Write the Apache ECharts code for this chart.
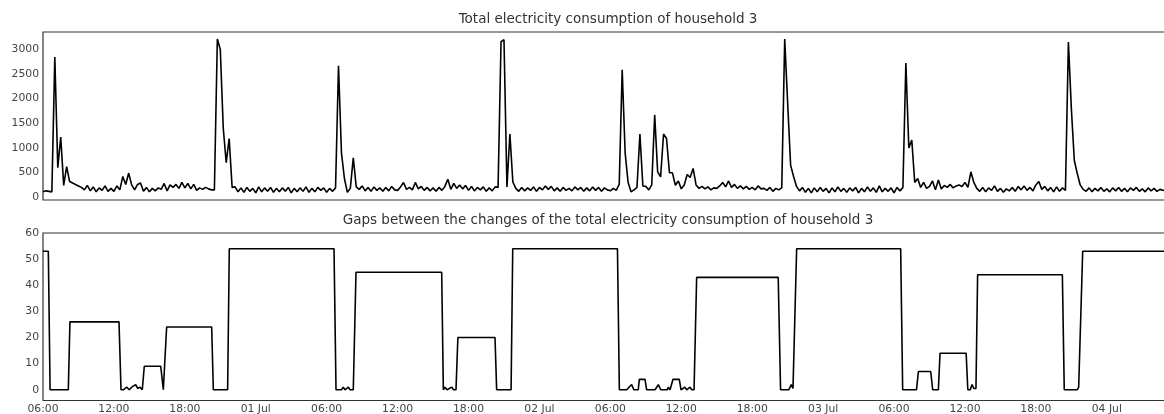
<!DOCTYPE html>
<html>
<head>
<meta charset="utf-8">
<script src="https://cdn.jsdelivr.net/npm/echarts@6/dist/echarts.min.js"></script>
<style>
  html, body { margin: 0; padding: 0; background: #fff; }
  #chart { width: 1164px; height: 414px; }
</style>
</head>
<body>
<div id="chart"></div>
<script>
// start of the series: 30 Jun, 06:00 (local time); x axis counts hours from here
const startTime = new Date(2013, 5, 30, 6, 0).getTime();
const HOUR = 3600 * 1000;
const stepHours = 0.25;
const spanHours = 95.6;

// total power, one value every 15 minutes, one row per hour
const power = [
  110, 130, 120, 110,
  2840, 600, 1220, 240,
  620, 320, 290, 260,
  230, 200, 150, 240,
  130, 210, 110, 190,
  140, 230, 120, 180,
  120, 230, 150, 420,
  260, 490, 250, 150,
  260, 290, 120, 200,
  110, 180, 130, 190,
  160, 280, 130, 250,
  200, 260, 180, 300,
  190, 280, 170, 260,
  140, 190, 160, 200,
  170, 150, 150, 3205,
  2990, 1400, 700, 1190,
  200, 210, 110, 190,
  100, 200, 120, 180,
  90, 210, 110, 190,
  120, 200, 100, 180,
  110, 190, 120, 200,
  90, 180, 110, 190,
  120, 210, 100, 180,
  110, 200, 140, 190,
  100, 180, 120, 190,
  2662, 900, 380, 100,
  180, 800, 210, 160,
  230, 130, 200, 120,
  210, 140, 190, 120,
  200, 130, 220, 150,
  140, 210, 300, 160,
  200, 150, 300, 170,
  220, 140, 200, 130,
  190, 120, 200, 140,
  220, 365, 160, 280,
  180, 250, 170, 240,
  140, 220, 130, 200,
  150, 210, 120, 190,
  130, 210, 200, 3150,
  3190, 210, 1280, 310,
  180, 120, 200, 130,
  190, 140, 210, 120,
  200, 150, 230, 160,
  220, 130, 190, 120,
  200, 140, 180, 130,
  210, 150, 200, 120,
  190, 130, 210, 140,
  200, 120, 190, 150,
  130, 180, 140, 265,
  2580, 900, 300, 110,
  150, 200, 1280, 230,
  220, 150, 250, 1667,
  515, 413, 1280, 1190,
  495, 495, 244, 330,
  170, 250, 460, 400,
  583, 250, 180, 220,
  170, 210, 150, 190,
  180, 230, 300, 210,
  330, 200, 260, 180,
  230, 170, 220, 160,
  200, 150, 230, 170,
  180, 140, 200, 120,
  180, 150, 190, 3205,
  1900, 650, 420, 220,
  130, 200, 100, 180,
  90, 190, 110, 200,
  120, 180, 90, 190,
  110, 210, 120, 180,
  100, 190, 130, 200,
  90, 180, 110, 210,
  120, 190, 100, 230,
  110, 180, 120, 190,
  90, 200, 130, 200,
  2717, 1000, 1160, 300,
  380, 200, 300, 180,
  220, 330, 150, 350,
  170, 240, 200, 260,
  190, 230, 250, 220,
  300, 200, 515, 300,
  180, 120, 200, 110,
  190, 140, 230, 120,
  180, 100, 170, 130,
  200, 120, 220, 150,
  230, 140, 200, 130,
  250, 320, 160, 220,
  130, 200, 110, 210,
  120, 190, 140, 3140,
  1800, 750, 480, 250,
  160, 120, 190, 110,
  180, 130, 200, 120,
  170, 110, 190, 130,
  200, 120, 180, 110,
  190, 140, 200, 120,
  170, 110, 190, 130,
  180, 120, 160, 140,
  150, 130, 150
];

// gaps between changes: hours after start and gap value
const gapHours = [
  0, 0.45, 0.6, 2.14, 2.28, 6.43, 6.6, 6.79, 7.08, 7.3, 7.5, 7.64, 7.84, 8.01, 8.21, 8.4, 8.49, 8.57,
  9.96, 10.18, 10.24, 10.46, 14.27, 14.41, 15.62, 15.76, 24.62, 24.79, 25.25, 25.4, 25.55, 25.83, 25.97,
  26.25, 26.48, 33.73, 33.87, 34.0, 34.18, 34.58, 34.73, 34.94, 35.1, 38.24, 38.38, 39.6, 39.74,
  48.6, 48.76, 49.38, 49.8, 49.99, 50.36, 50.45, 50.93, 51.07, 51.78, 52.06, 52.26, 52.82, 52.9, 53.05,
  53.3, 53.83, 53.98, 54.3, 54.46, 54.74, 54.88, 55.08, 55.3, 62.2, 62.4, 63.1, 63.3, 63.45, 63.56, 63.76,
  72.56, 72.73, 73.9, 74.06, 75.1, 75.27, 75.75, 75.89, 78.1, 78.24, 78.45, 78.6, 78.75, 78.93, 79.07,
  86.24, 86.4, 87.5, 87.62, 87.78, 87.96, 95.6
];
const gapValues = [
  53, 53, 0, 0, 26, 26, 0, 0, 1, 0, 1, 0.3, 2, 0.5, 1, 0, 0, 9,
  9, 0, 0, 24, 24, 0, 0, 54, 54, 0, 0, 1, 0, 1, 0,
  0, 45, 45, 0, 1, 0, 1, 0, 0, 20, 20, 0, 0, 54,
  54, 0, 0, 2, 0, 0, 4, 4, 0, 0, 2, 0, 0, 1, 0,
  4, 4, 0, 1, 0, 1, 0, 0, 43, 43, 0, 0, 2, 0.5, 0.5, 54,
  54, 0, 0, 7, 7, 0, 0, 14, 14, 0, 0, 2, 0.5, 0.5, 44,
  44, 0, 0, 1, 1, 53, 53
];

const powerTicks = [0, 500, 1000, 1500, 2000, 2500, 3000];
const gapTicks = [0, 10, 20, 30, 40, 50, 60];
const tickHours = [0, 6, 12, 18, 24, 30, 36, 42, 48, 54, 60, 66, 72, 78, 84, 90];
const months = ["Jan", "Feb", "Mar", "Apr", "May", "Jun", "Jul", "Aug", "Sep", "Oct", "Nov", "Dec"];

const titles = [
  "Total electricity consumption of household 3",
  "Gaps between the changes of the total electricity consumption of household 3"
];

const pad = (n) => String(n).padStart(2, "0");
const fmtHour = (h) => {
  const d = new Date(startTime + h * HOUR);
  if (d.getHours() === 0) return pad(d.getDate()) + " " + months[d.getMonth()];
  return pad(d.getHours()) + ":00";
};

const powerData = power.map((v, i) => [i * stepHours, v]);
const gapData = gapHours.map((h, i) => [h, gapValues[i]]);

const font = "DejaVu Sans";
// the axes run past the right edge of the picture, so no right spine shows
const gridBase = {
  left: 43,
  width: 1130,
  outerBoundsMode: "none",
  show: true,
  borderColor: "#333",
  borderWidth: 1.2,
  backgroundColor: "transparent",
};

const xBase = {
  type: "value",
  min: 0,
  max: spanHours,
  axisLine: { show: false },
  axisTick: { show: false },
  splitLine: { show: false },
};

const yBase = {
  type: "value",
  axisLine: { show: false },
  axisTick: { show: false },
  splitLine: { show: false },
};

const labelStyle = { color: "#444", fontFamily: font, fontSize: 10.8 };
const titleStyle = { color: "#333", fontFamily: font, fontSize: 13.5, fontWeight: "normal" };

const option = {
  animation: false,
  backgroundColor: "#fff",
  title: [
    { text: titles[0], left: 608, top: 12, padding: 0, textAlign: "center", textStyle: titleStyle },
    { text: titles[1], left: 608, top: 213, padding: 0, textAlign: "center", textStyle: titleStyle },
  ],
  grid: [
    { ...gridBase, top: 32, height: 168 },
    { ...gridBase, top: 233, height: 167.5 },
  ],
  xAxis: [
    { ...xBase, gridIndex: 0, axisLabel: { show: false } },
    {
      ...xBase,
      gridIndex: 1,
      axisLabel: { ...labelStyle, margin: 3, customValues: tickHours, formatter: fmtHour },
    },
  ],
  yAxis: [
    {
      ...yBase,
      gridIndex: 0,
      min: -55,
      max: 3345,
      axisLabel: { ...labelStyle, margin: 4, customValues: powerTicks, formatter: (v) => String(v) },
    },
    {
      ...yBase,
      gridIndex: 1,
      min: -4.1,
      max: 60,
      axisLabel: { ...labelStyle, margin: 4, customValues: gapTicks, formatter: (v) => String(v) },
    },
  ],
  series: [
    {
      type: "line",
      xAxisIndex: 0,
      yAxisIndex: 0,
      data: powerData,
      showSymbol: false,
      lineStyle: { color: "#000", width: 1.6 },
    },
    {
      type: "line",
      xAxisIndex: 1,
      yAxisIndex: 1,
      data: gapData,
      showSymbol: false,
      lineStyle: { color: "#000", width: 1.6 },
    },
  ],
};

const chart = echarts.init(document.getElementById("chart"), null, { renderer: "canvas" });
chart.setOption(option);
</script>
</body>
</html>
